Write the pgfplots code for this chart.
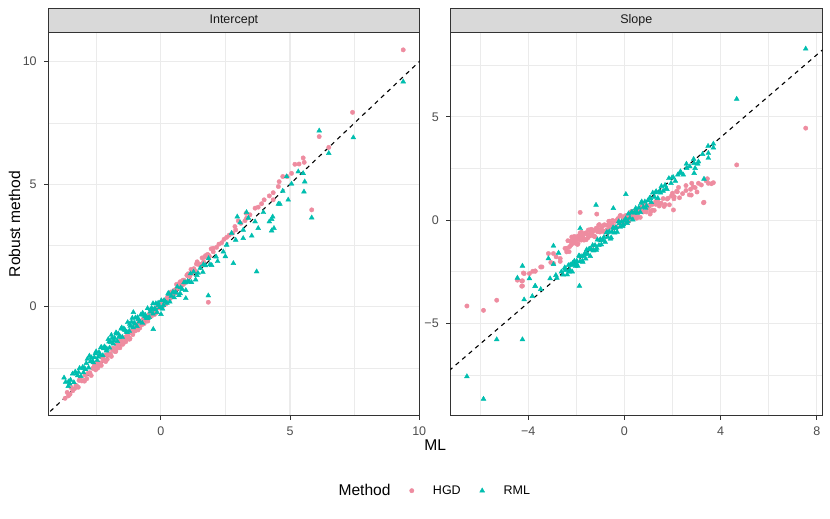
\documentclass[border=0pt]{standalone}
\usepackage{fontspec}
\setmainfont{Liberation Sans}
\usepackage{pgfplots}
\pgfplotsset{compat=1.18}
\definecolor{hgd}{RGB}{238,140,160}
\definecolor{rml}{RGB}{0,190,175}
\definecolor{gridc}{HTML}{EBEBEB}
\definecolor{g20}{HTML}{333333}
\definecolor{g30}{HTML}{4D4D4D}
\definecolor{g85}{HTML}{D9D9D9}
\newcommand{\tickfont}{\fontsize{12.5}{14}\selectfont}
\newcommand{\titlefont}{\fontsize{15.6}{18}\selectfont}
\pgfplotsset{
  facet/.style={
    scale only axis, height=383pt,
    axis line style={g20, line width=0.9pt},
    tick pos=left,
    tick align=outside, major tick length=3.9pt, minor tick length=0pt,
    every tick/.style={g20, line width=0.9pt},
    grid=both,
    major grid style={gridc, line width=1.1pt},
    minor grid style={gridc, line width=0.55pt},
    ticklabel style={font=\tickfont, text=g30},
    xticklabel style={inner sep=0pt, yshift=-7pt},
    yticklabel style={inner sep=0pt, xshift=-7.5pt},
  },
  hgdp/.style={only marks, mark=*, mark size=2.2pt, color=hgd, mark options={solid, draw=none, fill=hgd},
    legend image code/.code={\draw[##1] plot coordinates {(0pt,0pt)};}},
  rmlp/.style={only marks, mark=triangle*, mark size=2.8pt, color=rml, mark options={solid, draw=none, fill=rml},
    legend image code/.code={\draw[##1] plot coordinates {(0pt,0pt)};}},
  refl/.style={black, line width=1.1pt, dash pattern=on 4.3pt off 4.3pt, forget plot},
}
\begin{document}
\begin{tikzpicture}
\path[use as bounding box] (0,0) rectangle (830pt,519pt);
% ---------------- Intercept ----------------
\begin{axis}[facet, at={(48.3pt,103.3pt)}, anchor=south west, width=371.2pt,
  xmin=-4.35, xmax=10.01, ymin=-4.45, ymax=11.18,
  xtick={0,5,10}, xticklabels={0,5,10}, minor xtick={-2.5,2.5,7.5},
  ytick={0,5,10}, yticklabels={0,5,10}, minor ytick={-2.5,2.5,7.5},
  legend style={at={(1.2977,-0.1958)}, anchor=east, draw=none, fill=none,
    legend columns=-1, font=\tickfont, inner sep=0pt, outer sep=0pt,
    nodes={inner sep=0pt},
    /tikz/every odd column/.append style={column sep=19pt},
    /tikz/every even column/.append style={column sep=19pt}},
  legend cell align=left,
]
\addlegendimage{empty legend}
\addlegendentry{\titlefont Method}
\addplot[hgdp] coordinates {
(-3.62,-3.50) (-3.51,-3.57) (-3.47,-3.30) (-3.33,-3.34) (-3.28,-3.21) (-3.19,-3.29) (-3.12,-2.92) (-3.05,-3.03) (-2.98,-3.02) (-2.93,-2.79) (-2.86,-2.94) (-2.81,-2.72) (-2.74,-2.70) (-2.69,-2.81) (-2.63,-2.52) (-2.59,-2.47) (-2.52,-2.58) (-2.48,-2.31) (-2.41,-2.42) (-2.37,-2.30) (-2.30,-2.40) (-2.27,-2.07) (-2.21,-2.19) (-2.16,-2.20) (-2.11,-1.97) (-2.07,-2.15) (-2.02,-1.93) (-1.96,-1.92) (-1.91,-2.03) (-1.87,-1.76) (-1.83,-1.71) (-1.77,-1.83) (-1.72,-1.55) (-1.69,-1.70) (-1.63,-1.56) (-1.58,-1.68) (-1.54,-1.34) (-1.49,-1.47) (-1.44,-1.48) (-1.39,-1.25) (-1.35,-1.43) (-1.31,-1.22) (-1.26,-1.22) (-1.21,-1.33) (-1.17,-1.06) (-1.12,-1.00) (-1.08,-1.14) (-1.02,-0.85)
(-0.97,-0.95) (-0.93,-0.83) (-0.88,-0.95) (-0.84,-0.61) (-0.79,-0.74) (-0.73,-0.74) (-0.69,-0.52) (-0.64,-0.69) (-0.59,-0.47) (-0.55,-0.48) (-0.50,-0.59) (-0.46,-0.32) (-0.41,-0.26) (-0.36,-0.39) (-0.32,-0.12) (-0.27,-0.25) (-0.22,-0.12) (-0.18,-0.25) (-0.13,0.10) (-0.08,-0.03) (-0.03,-0.04) (0.02,0.19) (0.07,0.02) (0.11,0.23) (0.16,0.23) (0.21,0.12) (0.26,0.40) (0.31,0.46) (0.35,0.32) (0.40,0.60) (0.46,0.48)
(0.51,0.66) (0.55,0.54) (0.61,0.91) (0.66,0.78) (0.70,0.77) (0.76,1.02) (0.81,0.86) (0.86,1.08) (0.90,1.08) (0.96,0.99) (1.01,1.28) (1.06,1.34) (1.12,1.23) (1.17,1.52) (1.23,1.41) (1.28,1.55) (1.34,1.45) (1.41,1.83) (1.47,1.72) (1.53,1.72) (1.60,1.99) (1.66,1.83) (1.73,2.08) (1.81,2.13) (1.88,2.05) (1.95,2.36)
(-3.40,-3.43) (-3.16,-3.01) (-2.95,-3.04) (-2.77,-2.71) (-2.56,-2.38) (-2.44,-2.51) (-2.33,-2.30) (-2.24,-2.11) (-2.13,-2.24) (-2.04,-1.96) (-1.94,-1.97) (-1.85,-1.70) (-1.74,-1.83) (-1.66,-1.60) (-1.56,-1.38) (-1.47,-1.54) (-1.37,-1.34) (-1.28,-1.15) (-1.19,-1.30) (-1.10,-1.02) (-0.99,-0.99) (-0.90,-0.72) (-0.81,-0.87) (-0.71,-0.62) (-0.61,-0.40) (-0.52,-0.56) (-0.43,-0.37) (-0.34,-0.18) (-0.24,-0.32) (-0.15,-0.04) (-0.05,-0.05) (0.05,0.23) (0.14,0.08) (0.24,0.33) (0.33,0.54) (0.43,0.39) (0.58,0.70) (0.73,0.97) (0.88,0.91) (1.03,1.27) (1.20,1.36) (1.38,1.74) (1.56,1.71) (1.70,2.02)
(1.84,2.11) (2.03,2.24) (2.03,2.38) (2.16,2.42) (2.25,2.55) (2.36,2.61) (2.45,2.75) (2.55,2.83) (2.65,2.92) (2.78,3.00) (2.87,3.27) (2.90,3.13) (3.00,3.50) (3.10,3.40) (3.26,3.51) (3.30,3.81) (3.32,3.61) (3.45,3.75) (3.65,4.02) (3.77,4.06) (3.90,4.20) (4.00,4.36) (4.20,4.52) (4.35,4.65) (4.35,4.36) (4.55,4.90) (4.58,5.10) (4.72,5.31) (4.89,5.31) (5.06,5.44) (5.19,5.81) (5.35,5.82) (5.51,6.07) (5.55,5.89) (5.84,3.95) (6.13,6.94) (6.50,6.50) (7.42,7.93) (9.38,10.48) (1.84,0.18) (-3.70,-3.74) (-3.57,-3.64)
};
\addlegendentry{HGD}
\addplot[rmlp] coordinates {
(-3.68,-3.08) (-3.58,-3.25) (-3.49,-2.99) (-3.41,-2.74) (-3.36,-3.09) (-3.27,-2.74) (-3.21,-2.81) (-3.14,-2.51) (-3.09,-2.84) (-3.02,-2.47) (-2.96,-2.51) (-2.91,-2.56) (-2.84,-2.14) (-2.79,-2.49) (-2.72,-2.24)
(-2.68,-2.08) (-2.61,-2.28) (-2.57,-2.07) (-2.50,-1.83) (-2.46,-2.19) (-2.39,-1.86) (-2.35,-1.95) (-2.29,-1.66) (-2.24,-1.99) (-2.18,-1.63) (-2.13,-1.68) (-2.08,-1.73) (-2.03,-1.33) (-1.98,-1.68) (-1.93,-1.45) (-1.88,-1.28) (-1.84,-1.51) (-1.78,-1.28) (-1.73,-1.06) (-1.68,-1.41) (-1.64,-1.11) (-1.59,-1.19) (-1.53,-0.90)
(-1.49,-1.24) (-1.43,-0.90) (-1.38,-0.96) (-1.33,-1.03) (-1.28,-0.64) (-1.22,-0.99) (-1.18,-0.79) (-1.13,-0.63) (-1.07,-0.85) (-1.03,-0.66) (-0.98,-0.45) (-0.92,-0.80) (-0.87,-0.51) (-0.82,-0.60) (-0.77,-0.33) (-0.71,-0.67) (-0.66,-0.33) (-0.61,-0.40) (-0.56,-0.46) (-0.51,-0.07) (-0.45,-0.43) (-0.40,-0.21) (-0.35,-0.06) (-0.30,-0.29) (-0.24,-0.08) (-0.19,0.13) (-0.14,-0.23) (-0.09,0.06) (-0.04,-0.03)
(0.02,0.25) (0.07,-0.09) (0.13,0.26) (0.18,0.20) (0.24,0.15) (0.29,0.55) (0.35,0.20) (0.41,0.43) (0.47,0.60) (0.52,0.37) (0.58,0.59) (0.64,0.81) (0.70,0.46) (0.77,0.78) (0.83,0.71) (0.90,0.99) (0.97,0.67) (1.04,1.04) (1.11,1.01) (1.19,0.99) (1.27,1.42) (1.35,1.10) (1.44,1.37) (1.53,1.58) (1.63,1.41) (1.73,1.68) (1.85,1.97) (1.97,1.69)
(-3.52,-3.15) (-3.31,-2.66) (-3.18,-2.68) (-2.99,-2.69) (-2.88,-2.31) (-2.76,-2.01) (-2.64,-2.21) (-2.53,-1.91) (-2.42,-2.05) (-2.32,-1.67) (-2.21,-1.71) (-2.10,-1.80) (-2.00,-1.43) (-1.91,-1.16) (-1.81,-1.38) (-1.71,-1.09) (-1.61,-1.24) (-1.51,-0.86) (-1.41,-0.93) (-1.30,-1.05) (-1.20,-0.71) (-1.10,-0.46) (-1.00,-0.70) (-0.90,-0.44) (-0.80,-0.62) (-0.70,-0.26) (-0.60,-0.34) (-0.50,-0.47) (-0.40,-0.12) (-0.30,0.13) (-0.20,-0.12) (-0.10,0.15) (0.10,0.06) (0.32,0.52) (0.55,0.57) (0.75,0.54) (0.95,0.98) (1.15,1.35) (1.40,1.28) (1.65,1.72) (1.90,1.72)
(-3.74,-2.90) (-3.57,-3.06) (-1.06,-0.23) (-0.29,-0.92) (0.01,-0.31) (0.97,0.34) (1.84,0.45) (2.14,2.04) (2.20,1.85) (2.42,2.24) (2.50,2.05) (2.55,2.52) (2.74,3.00) (2.81,1.77) (2.90,2.72) (2.96,3.67) (3.07,3.43) (3.19,3.13) (3.19,2.79) (3.32,3.85) (3.39,3.62) (3.52,2.89) (3.65,3.47) (3.71,1.43) (3.77,3.20) (3.97,3.85) (4.20,3.47) (4.29,3.57) (4.29,3.10) (4.33,3.67) (4.38,3.20) (4.55,4.19) (4.61,4.19) (4.72,4.72) (4.87,5.31) (4.93,4.36) (5.06,5.01) (5.32,5.51) (5.51,5.44) (5.54,4.69) (5.57,5.10) (5.84,3.63) (6.13,7.18) (6.50,6.26) (7.45,6.90) (9.38,9.18)
};
\addlegendentry{RML}
\addplot[refl] coordinates {(-5,-5) (11,11)};
\end{axis}
% ---------------- Slope ----------------
\begin{axis}[facet, at={(450.3pt,103.3pt)}, anchor=south west, width=372pt,
  xmin=-7.24, xmax=8.23, ymin=-9.47, ymax=9.07,
  xtick={-4,0,4,8}, xticklabels={−4,0,4,8}, minor xtick={-6,-2,2,6},
  ytick={-5,0,5}, yticklabels={−5,0,5}, minor ytick={-7.5,-2.5,2.5,7.5},
]
\addplot[hgdp] coordinates {
(-6.55,-4.16) (-5.86,-4.37) (-5.31,-3.88) (-4.45,-2.91) (-4.24,-2.94) (-4.24,-3.19) (-4.17,-2.59) (-3.95,-2.59) (-3.81,-2.48) (-3.71,-2.48) (-3.48,-2.27) (-3.16,-1.62) (-2.95,-1.62) (-2.84,-1.78) (-3.06,-2.05) (-2.67,-1.86) (-2.67,-2.00) (-2.40,-1.37) (-2.40,-1.54) (-1.84,0.37) (-1.15,0.29)
(-2.95,-2.10) (-4.20,-2.56) (-3.43,-2.27) (-3.71,-2.46) (-4.27,-2.95) (-4.27,-3.20) (-2.47,-1.37) (-2.30,-1.53)
(-2.35,-1.00) (-2.28,-1.29) (-2.24,-1.02) (-2.19,-0.82) (-2.15,-1.13) (-2.11,-1.00) (-2.06,-0.80) (-2.03,-1.12) (-1.99,-0.87) (-1.95,-1.18) (-1.91,-0.76) (-1.88,-0.94) (-1.84,-0.62) (-1.80,-0.97) (-1.76,-0.81) (-1.72,-0.71) (-1.68,-0.97) (-1.63,-0.65) (-1.59,-0.95) (-1.55,-0.68) (-1.50,-0.48) (-1.46,-0.78) (-1.41,-0.66) (-1.36,-0.45) (-1.31,-0.76) (-1.27,-0.51) (-1.22,-0.81) (-1.17,-0.39) (-1.12,-0.56) (-1.07,-0.24) (-1.02,-0.58) (-0.97,-0.42) (-0.92,-0.31) (-0.86,-0.56) (-0.81,-0.24) (-0.76,-0.53) (-0.70,-0.25) (-0.65,-0.06) (-0.60,-0.35) (-0.54,-0.22) (-0.49,-0.02) (-0.43,-0.32) (-0.38,-0.06) (-0.32,-0.36) (-0.27,0.07) (-0.21,-0.11) (-0.16,0.22) (-0.10,-0.12) (-0.05,0.05)
(0.01,0.16) (0.07,-0.10) (0.12,0.23) (0.18,-0.06) (0.24,0.22) (0.30,0.42) (0.36,0.13) (0.42,0.26) (0.48,0.47) (0.54,0.17) (0.60,0.43) (0.66,0.13) (0.72,0.56) (0.78,0.39) (0.85,0.73) (0.91,0.39) (0.97,0.56) (1.04,0.67) (1.10,0.42) (1.17,0.76) (1.24,0.47) (1.31,0.76) (1.38,0.96) (1.45,0.68) (1.53,0.82) (1.61,1.04) (1.69,0.75) (1.78,1.02) (1.87,0.74) (1.96,1.18) (2.06,1.03) (2.17,1.39) (2.29,1.08) (2.42,1.28) (2.56,1.43) (2.70,1.22) (2.86,1.60) (3.02,1.36) (3.20,1.70) (3.45,2.00) (3.62,1.76)
(-2.22,-1.21) (-2.12,-0.81) (-2.01,-0.96) (-1.93,-1.14) (-1.86,-0.78) (-1.78,-0.59) (-1.70,-0.88) (-1.61,-0.62) (-1.52,-0.86) (-1.43,-0.47) (-1.34,-0.62) (-1.24,-0.79) (-1.14,-0.42) (-1.04,-0.22) (-0.94,-0.50) (-0.84,-0.23) (-0.73,-0.47) (-0.62,-0.06) (-0.51,-0.21) (-0.40,-0.37) (-0.29,0.01) (-0.18,0.21) (-0.07,-0.07) (0.04,0.21) (0.15,-0.03) (0.27,0.39) (0.39,0.25) (0.51,0.09) (0.63,0.47) (0.76,0.68) (0.89,0.42) (1.02,0.70) (1.16,0.48) (1.30,0.90) (1.47,0.79) (1.65,0.66) (1.82,1.06) (2.00,1.30)
(1.07,0.29) (2.04,0.49) (2.07,1.13) (2.20,1.37) (2.25,1.58) (2.56,1.67) (2.80,1.78) (2.94,1.57) (3.08,1.78) (3.29,0.84) (3.31,0.86) (3.40,1.90) (3.49,1.78) (3.70,1.81) (4.67,2.67) (7.54,4.45) (2.78,1.21) (2.75,1.49)
};
\addplot[rmlp] coordinates {
(-2.45,-2.43) (-2.38,-2.64) (-2.33,-2.19) (-2.27,-2.40) (-2.22,-2.15) (-2.17,-2.50) (-2.12,-2.18) (-2.08,-1.98) (-2.03,-2.23) (-1.98,-1.98) (-1.94,-2.22) (-1.89,-1.72) (-1.85,-2.01) (-1.80,-1.76) (-1.75,-1.98) (-1.71,-1.74) (-1.66,-1.64) (-1.61,-1.87) (-1.57,-1.43) (-1.52,-1.65) (-1.47,-1.40) (-1.42,-1.75) (-1.37,-1.43) (-1.32,-1.22) (-1.27,-1.47) (-1.22,-1.22) (-1.17,-1.45) (-1.12,-0.95) (-1.06,-1.22) (-1.01,-0.97) (-0.96,-1.19) (-0.91,-0.94) (-0.85,-0.83) (-0.80,-1.06) (-0.74,-0.60) (-0.69,-0.82) (-0.63,-0.56) (-0.58,-0.91) (-0.52,-0.58) (-0.47,-0.37) (-0.41,-0.61) (-0.35,-0.35) (-0.30,-0.58) (-0.24,-0.07) (-0.18,-0.34) (-0.12,-0.08) (-0.07,-0.30) (-0.01,-0.04)
(0.05,0.07) (0.11,-0.15) (0.17,0.31) (0.23,0.10) (0.29,0.36) (0.35,0.02) (0.41,0.35) (0.47,0.57) (0.54,0.34) (0.60,0.60) (0.66,0.38) (0.72,0.89) (0.79,0.63) (0.85,0.89) (0.92,0.69) (0.98,0.95) (1.05,1.07) (1.12,0.86) (1.18,1.32) (1.25,1.12) (1.32,1.39) (1.39,1.06) (1.46,1.40) (1.54,1.64) (1.61,1.41) (1.69,1.69) (1.77,1.49) (1.85,2.02) (1.94,1.78) (2.03,2.07) (2.12,1.89) (2.22,2.19) (2.33,2.35) (2.45,2.19) (2.58,2.72) (2.72,2.59) (2.88,2.95) (3.05,2.72) (3.25,3.19) (3.48,3.58) (3.70,3.50)
(-2.30,-2.50) (-2.15,-2.08) (-2.00,-2.10) (-1.87,-1.75) (-1.73,-2.03) (-1.59,-1.61) (-1.44,-1.40) (-1.30,-1.48) (-1.15,-1.35) (-1.00,-0.93) (-0.88,-0.98) (-0.72,-0.60) (-0.55,-0.85) (-0.38,-0.40) (-0.21,-0.17) (-0.04,-0.22) (0.14,-0.06) (0.32,0.39) (0.50,0.40) (0.69,0.81) (0.88,0.58) (1.08,1.06) (1.29,1.33) (1.50,1.32) (1.73,1.53) (1.98,2.05)
(2.90,2.75) (2.90,2.27) (2.94,2.51) (3.08,2.83) (3.31,1.99) (3.49,3.24) (3.49,3.00) (3.70,3.69) (4.67,5.86) (7.54,8.29) (2.59,2.51) (2.35,2.27) (0.06,1.25) (-1.18,0.73) (-0.46,0.57) (-1.84,-0.40) (-2.95,-1.25) (-4.24,-2.22) (-4.45,-2.80) (-4.17,-3.85) (-3.83,-3.69) (-3.71,-3.19) (-3.48,-3.35) (-3.95,-2.83) (-3.16,-1.86) (-2.74,-1.59) (-2.95,-2.14) (-3.09,-2.83) (-2.85,-2.67) (-1.87,-3.19) (-6.55,-7.57) (-5.86,-8.66) (-5.31,-5.78) (-4.24,-5.78) (-2.81,-2.80) (-3.71,-3.20) (-2.47,-2.35) (-2.26,-2.18) (-2.62,-2.50) (-2.55,-2.65) (-2.48,-2.30)
};
\addplot[refl] coordinates {(-10,-10) (10,10)};
\end{axis}
% strips
\draw[g20, fill=g85, line width=0.9pt] (48.3pt,486.3pt) rectangle (419.5pt,511pt);
\node[font=\tickfont, text=black!90] at (233.9pt,498.6pt) {Intercept};
\draw[g20, fill=g85, line width=0.9pt] (450.3pt,486.3pt) rectangle (822.3pt,511pt);
\node[font=\tickfont, text=black!90] at (636.3pt,498.6pt) {Slope};
% axis titles
\node[font=\titlefont] at (435.3pt,73.5pt) {ML};
\node[font=\titlefont, rotate=90] at (14.5pt,294.8pt) {Robust method};
\end{tikzpicture}
\end{document}
